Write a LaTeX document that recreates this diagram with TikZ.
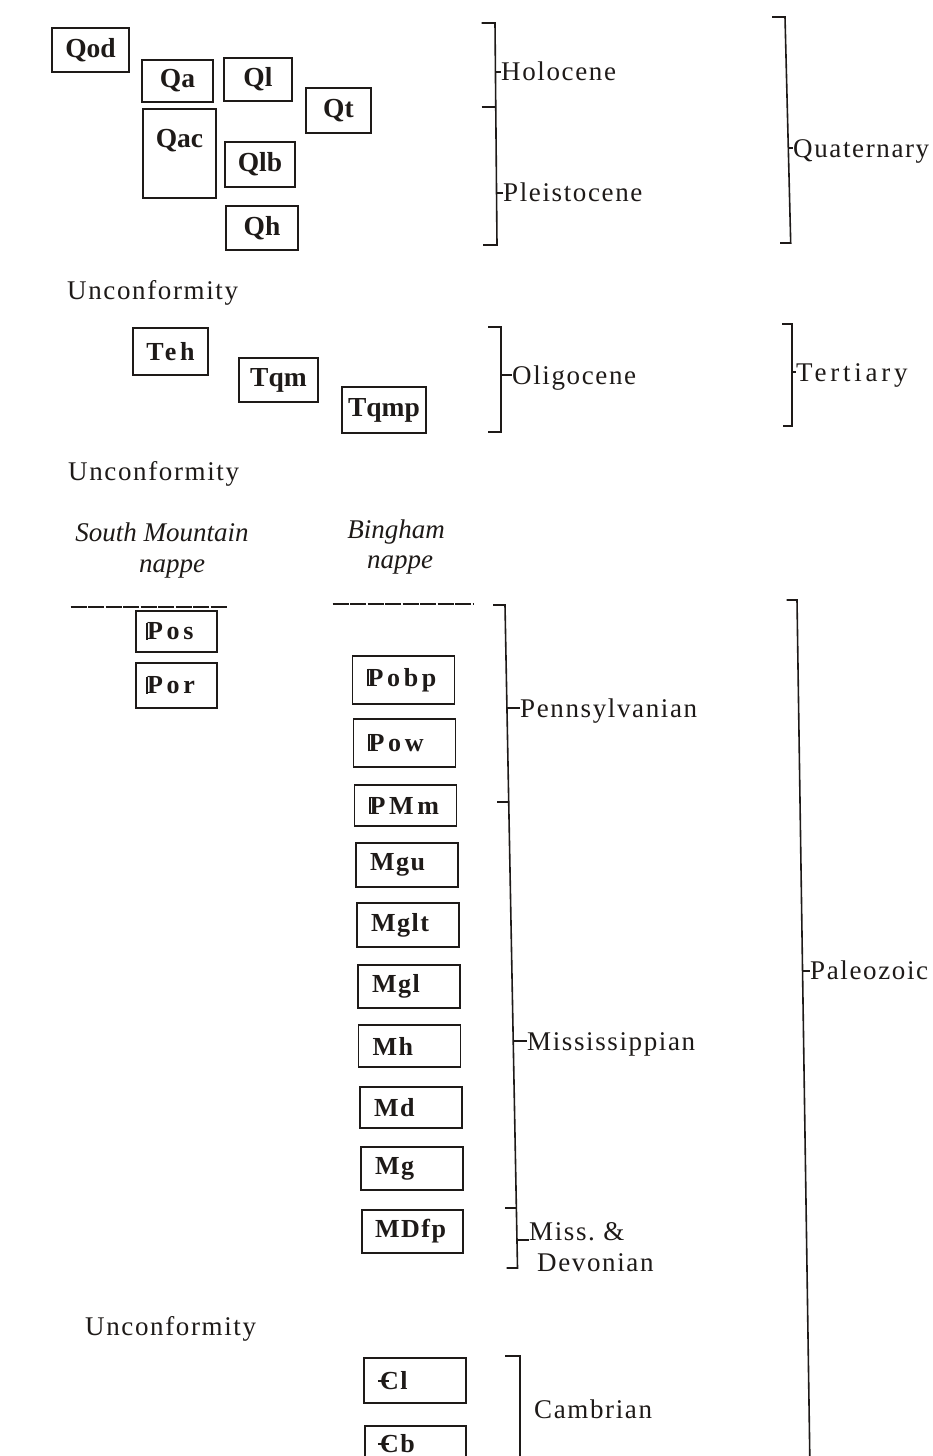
\documentclass[tikz,border=0pt]{standalone}
\usepackage{fontspec}
\setmainfont{Liberation Serif}
\newfontfamily\spaced[LetterSpace=6]{Liberation Serif}
\newfontfamily\wide[LetterSpace=14]{Liberation Serif}
\newcommand{\Penn}{\makebox[0pt][l]{\rule{0.08em}{0.66em}}\kern0.045em P}
\newcommand{\Camb}{\makebox[0pt][l]{\kern-0.08em\rule[0.29em]{0.42em}{0.07em}}C}
\begin{document}
\begin{tikzpicture}[x=1pt,y=-1pt,
  mapunit/.style={draw=drawColor,line width=1.6pt,inner sep=0pt,text=drawColor,font=\fontsize{27.5}{30}\selectfont\bfseries},
  colunit/.style={mapunit,align=left,inner xsep=14pt,text width=74pt,font=\fontsize{26}{30}\selectfont\spaced\bfseries},
  epoch/.style={anchor=west,inner sep=0pt,text height=18pt,text depth=0pt,text=drawColor,font=\fontsize{27}{31}\selectfont\spaced},
  nappe/.style={inner sep=0pt,align=center,text=drawColor,font=\fontsize{27}{31}\selectfont\itshape},
  bracket/.style={draw=drawColor,line width=1.6pt},
  contact/.style={draw=drawColor,line width=2pt,dash pattern=on 16pt off 1.5pt}]
\definecolor{drawColor}{RGB}{30,26,24}
\path[use as bounding box,fill=white] (0,0) rectangle (933,1456);

\node[mapunit,minimum width=77,minimum height=44] (qod) at (90.5,50) {Qod};
\node[mapunit,minimum width=71,minimum height=42] (qa) at (177.5,81) {Qa};
\node[mapunit,minimum width=68,minimum height=43] (ql) at (258,79.5) {Ql};
\node[mapunit,minimum width=65,minimum height=45] (qt) at (338.5,110.5) {Qt};
\node[mapunit,minimum width=73,minimum height=89,text height=18pt,text depth=31pt] (qac) at (179.5,153.5) {Qac};
\node[mapunit,minimum width=70,minimum height=45] (qlb) at (260,164.5) {Qlb};
\node[mapunit,minimum width=72,minimum height=44] (qh) at (262,228) {Qh};

\node[mapunit,minimum width=75,minimum height=47,font=\fontsize{26}{30}\selectfont\wide\bfseries] (teh) at (170.5,351.5) {Teh};
\node[mapunit,minimum width=79,minimum height=44] (tqm) at (278.5,380) {Tqm};
\node[mapunit,minimum width=84,minimum height=46] (tqmp) at (384,410) {Tqmp};

\node[colunit,inner xsep=10pt,text width=61pt,minimum height=41,font=\fontsize{26}{30}\selectfont\wide\bfseries] (pos) at (176.5,631.5) {\Penn os};
\node[colunit,inner xsep=10pt,text width=61pt,minimum height=45,font=\fontsize{26}{30}\selectfont\wide\bfseries] (por) at (176.5,685.5) {\Penn or};
\node[colunit,minimum height=48,font=\fontsize{26}{30}\selectfont\wide\bfseries] (pobp) at (403.5,680) {\Penn obp};
\node[colunit,minimum height=48,font=\fontsize{26}{30}\selectfont\wide\bfseries] (pow) at (404.5,743) {\Penn ow};
\node[colunit,minimum height=41,font=\fontsize{26}{30}\selectfont\wide\bfseries] (pmm) at (405.5,805.5) {\Penn Mm};
\node[colunit,minimum height=44] (mgu) at (407,865) {Mgu};
\node[colunit,minimum height=44] (mglt) at (408,925) {Mglt};
\node[colunit,minimum height=43] (mgl) at (409,986.5) {Mgl};
\node[colunit,minimum height=42] (mh) at (409.5,1046) {Mh};
\node[colunit,minimum height=41] (md) at (411,1107.5) {Md};
\node[colunit,minimum height=43] (mg) at (412,1168.5) {Mg};
\node[colunit,inner xsep=13pt,text width=75pt,minimum height=43] (mdfp) at (412.5,1231.5) {MDfp};
\node[colunit,inner xsep=16pt,text width=70pt,minimum height=45] (cl) at (415,1380.5) {\Camb l};
\node[colunit,inner xsep=15pt,text width=71pt,minimum height=36,anchor=north] (cb) at (415.5,1425) {\Camb b};

\node[epoch] (unc1) at (67,290.7) {Unconformity};
\node[epoch] (unc2) at (68,471.7) {Unconformity};
\node[epoch] (unc3) at (85,1326.7) {Unconformity};
\node[nappe] (smn) at (162,550) {South Mountain\\\hspace*{20pt}nappe};
\node[nappe] (bgn) at (396,547) {Bingham\\\hspace*{8pt}nappe};
\draw[contact] (70.7,607.3) -- (226.7,607.3);
\draw[contact] (332.7,604) -- (473,604);

\node[epoch] (holo) at (501,71.7) {Holocene};
\node[epoch] (pleis) at (503,192.7) {Pleistocene};
\node[epoch] (quat) at (793,148) {Quaternary};
\node[epoch] (olig) at (512,375) {Oligocene};
\node[epoch,font=\fontsize{27}{31}\selectfont\wide] (tert) at (796,372) {Tertiary};
\node[epoch] (penn) at (520,708) {Pennsylvanian};
\node[epoch] (miss) at (527,1041) {Mississippian};
\node[epoch] (paleo) at (810,970.7) {Paleozoic};
\node[epoch,anchor=north west,text height=,text depth=,align=left] (mdev) at (529,1222) {Miss.\ \&\\\hspace*{8pt}Devonian};
\node[epoch] (camb) at (534,1409) {Cambrian};

\draw[bracket] (481.7,23) -- (495,23) -- (497,245) -- (483,245);
\draw[bracket] (481.7,107) -- (496,107);
\draw[bracket] (772,17) -- (785,17) -- (790.7,243) -- (780,243);
\draw[bracket] (488,327) -- (500.7,327) -- (500.7,432) -- (488,432);
\draw[bracket] (782,324) -- (791.7,324) -- (791.7,426) -- (783,426);
\draw[bracket] (493,605) -- (505,605) -- (517.5,1268) -- (506.7,1268);
\draw[bracket] (497,801.7) -- (508.7,801.7);
\draw[bracket] (505,1208) -- (516.4,1208);
\draw[bracket] (786.7,600) -- (797,600) -- (810,1470);
\draw[bracket] (505,1356) -- (520,1356) -- (520,1470);

\coordinate (holtick) at (495.4,71.7);
\coordinate (pletick) at (496.5,192.7);
\coordinate (quatick) at (788.3,148);
\coordinate (oligtick) at (500.7,375);
\coordinate (tertick) at (791.7,372);
\coordinate (penntick) at (506.9,708);
\coordinate (misstick) at (513.2,1041);
\coordinate (paltick) at (802.6,970.7);
\coordinate (mdtick) at (517,1240);
\draw[bracket] (holtick) -- (holo.west);
\draw[bracket] (pletick) -- (pleis.west);
\draw[bracket] (quatick) -- (quat.west);
\draw[bracket] (oligtick) -- (olig.west);
\draw[bracket] (tertick) -- (tert.west);
\draw[bracket] (penntick) -- (penn.west);
\draw[bracket] (misstick) -- (miss.west);
\draw[bracket] (paltick) -- (paleo.west);
\draw[bracket] (mdtick) -- (mdtick -| mdev.west);
\end{tikzpicture}
\end{document}
